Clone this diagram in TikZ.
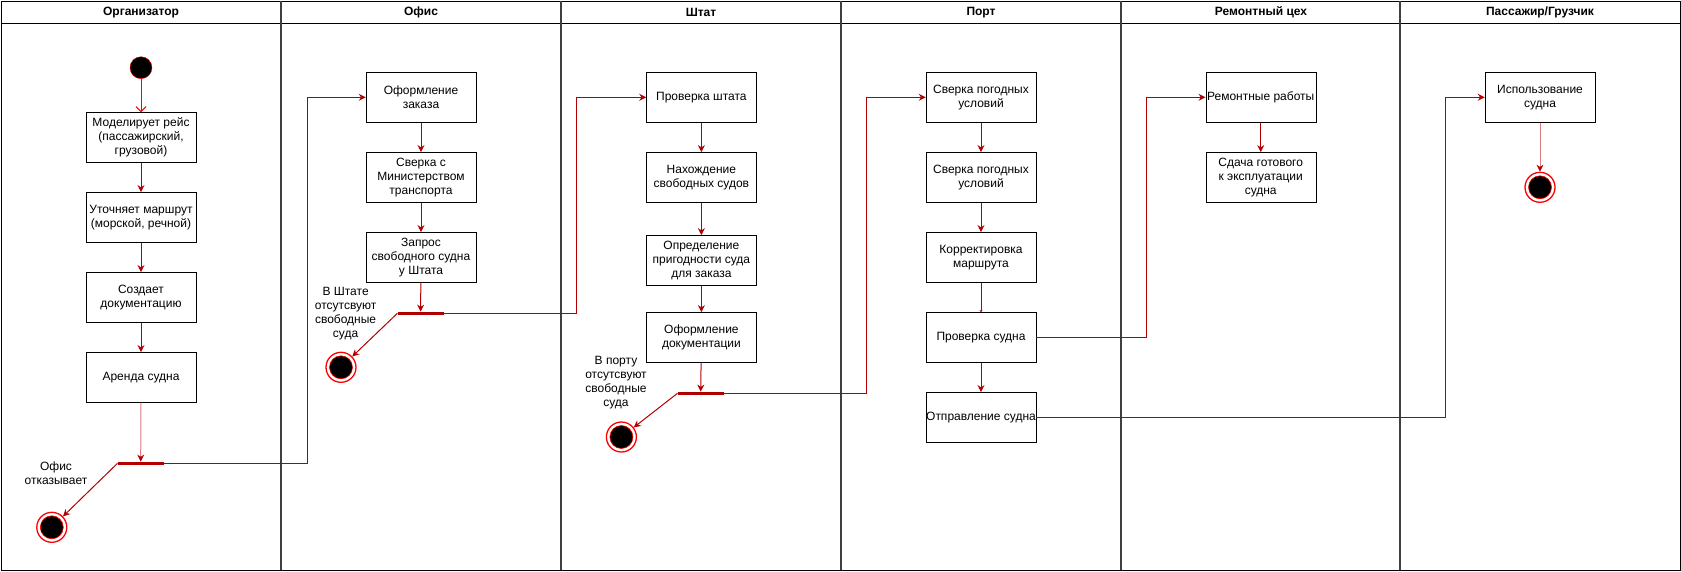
\documentclass[tikz,border=0pt]{standalone}
\usepackage{fontspec}
\setmainfont{Liberation Sans}
\usepackage{tikz}
\usetikzlibrary{arrows.meta}
\definecolor{flowred}{HTML}{B20000}
\definecolor{palered}{HTML}{E07A7A}
\definecolor{lanegray}{HTML}{404040}

\begin{document}
\begin{tikzpicture}[x=1pt, y=-1pt,
    >={Stealth[length=7pt,width=7pt]},
    txt/.style={font=\fontsize{12pt}{14pt}\selectfont, align=center, inner sep=0pt},
    head/.style={font=\fontsize{12pt}{14pt}\selectfont\bfseries},
    act/.style={txt, draw=black, rectangle, minimum width=110pt, minimum height=50pt},
    flowline/.style={->, flowred, line width=1pt},
    forkbar/.style={rectangle, fill=flowred, minimum width=46pt, minimum height=3pt, inner sep=0pt},
    initst/.style={circle, draw=red, fill=black, minimum size=22pt, inner sep=0pt},
    finalst/.style={circle, draw=red, line width=1.3pt, fill=white, minimum size=30pt, inner sep=0pt,
        path picture={\filldraw[black, draw=red, line width=0.6pt] (path picture bounding box.center) circle (11.5pt);}}]
                \useasboundingbox (0,0) rectangle (1681,571);

                % Lanes
                \draw[black] (1,1) rectangle (1680,570);
                \draw[black] (1,23.3) -- (1680,23.3);
                \draw[lanegray, line width=1.5pt] (281,1) -- (281,570) (561,1) -- (561,570)
                    (841,1) -- (841,570) (1121,1) -- (1121,570) (1400,1) -- (1400,570);
                \node[head] (hOrg) at (141,12.7) {Организатор};
                \node[head] (hOffice) at (421,12.7) {Офис};
                \node[head] (hStaff) at (701,12.7) {Штат};
                \node[head] (hPort) at (981,12.7) {Порт};
                \node[head] (hRepair) at (1261,12.7) {Ремонтный цех};
                \node[head] (hPass) at (1540,12.7) {Пассажир/Грузчик};

                % Organizer
                \node[initst] (start) at (141,67.7) {};
                \node[act] (model) at (141,137.5) {Моделирует рейс\\(пассажирский,\\грузовой)};
                \node[act] (route) at (141,217.3) {Уточняет маршрут\\(морской, речной)};
                \node[act] (docs) at (141,297.3) {Создает\\документацию};
                \node[act] (rent) at (141,377.3) {Аренда судна};
                \node[forkbar] (forkOrg) at (140.7,463.3) {};
                \node[finalst] (endOrg) at (51.8,527.3) {};
                \node[txt] (refuse) at (56,473) {Офис\\отказывает};

                % Office
                \node[act] (order) at (421,97.3) {Оформление\\заказа};
                \node[act] (ministry) at (421,177.3) {Сверка с\\Министерством\\транспорта};
                \node[act] (request) at (421,257.3) {Запрос\\свободного судна\\у Штата};
                \node[forkbar] (forkOff) at (420.6,313.3) {};
                \node[finalst] (endOff) at (341,367.3) {};
                \node[txt] (noShips) at (345.6,313.7) {В Штате\\отсутсвуют\\свободные\\суда};

                % Staff
                \node[act] (checkStaff) at (701.4,97.3) {Проверка штата};
                \node[act] (findShips) at (701.4,177.3) {Нахождение\\свободных судов};
                \node[act] (fitness) at (701.4,260.3) {Определение\\пригодности суда\\для заказа};
                \node[act] (paperwork) at (701.4,337.3) {Оформление\\документации};
                \node[forkbar] (forkStaff) at (700.7,393.3) {};
                \node[finalst] (endStaff) at (621.4,437) {};
                \node[txt] (noPort) at (616,383) {В порту\\отсутсвуют\\свободные\\суда};

                % Port
                \node[act] (weatherA) at (981,97.3) {Сверка погодных\\условий};
                \node[act] (weatherB) at (981,177.3) {Сверка погодных\\условий};
                \node[act] (correct) at (981,257.3) {Корректировка\\маршрута};
                \node[act] (inspect) at (981,337.3) {Проверка судна};
                \node[act] (depart) at (981,417.3) {Отправление судна};

                % Repair shop
                \node[act] (repair) at (1260.7,97.3) {Ремонтные работы};
                \node[act] (handover) at (1260.7,177.3) {Сдача готового\\к эксплуатации\\судна};

                % Passenger
                \node[act] (use) at (1540,97.3) {Использование\\судна};
                \node[finalst] (endUse) at (1540,187.3) {};

                % Flows
                \draw[red, line width=1pt, -{Straight Barb[length=5pt,width=10pt]}] (start) -- (model);
                \draw[flowline] (model) -- (route);
                \draw[flowline] (route) -- (docs);
                \draw[flowline] (docs) -- (rent);
                \draw[flowline, palered, -{Stealth[length=7pt,width=7pt,color=flowred]}] (rent) -- (forkOrg);
                \draw[flowline] (forkOrg.west) -- (endOrg);
                \draw[flowline] (forkOrg.east) -| ([xshift=-58.8pt]order.west) -- (order.west);

                \draw[flowline] (order) -- (ministry);
                \draw[flowline] (ministry) -- (request);
                \draw[flowline] (request) -- (forkOff);
                \draw[flowline] (forkOff.west) -- (endOff);
                \draw[flowline] (forkOff.east) -| ([xshift=-70pt]checkStaff.west) -- (checkStaff.west);

                \draw[flowline] (checkStaff) -- (findShips);
                \draw[flowline] (findShips) -- (fitness);
                \draw[flowline] (fitness) -- (paperwork);
                \draw[flowline] (paperwork) -- (forkStaff);
                \draw[flowline] (forkStaff.west) -- (endStaff);
                \draw[flowline] (forkStaff.east) -| ([xshift=-59.2pt]weatherA.west) -- (weatherA.west);

                \draw[flowline] (weatherA) -- (weatherB);
                \draw[flowline] (weatherB) -- (correct);
                \draw[flowline, -{Stealth[length=2pt,width=3pt]}] (correct) -- (inspect);
                \draw[flowline] (inspect) -- (depart);
                \draw[flowline] (inspect.east) -| ([xshift=-59.3pt]repair.west) -- (repair.west);
                \draw[flowline] (depart.east) -| ([xshift=-39.3pt]use.west) -- (use.west);

                \draw[flowline] (repair) -- (handover);
                \draw[flowline, palered, -{Stealth[length=7pt,width=7pt,color=flowred]}] (use) -- (endUse);
            \end{tikzpicture}
\end{document}
